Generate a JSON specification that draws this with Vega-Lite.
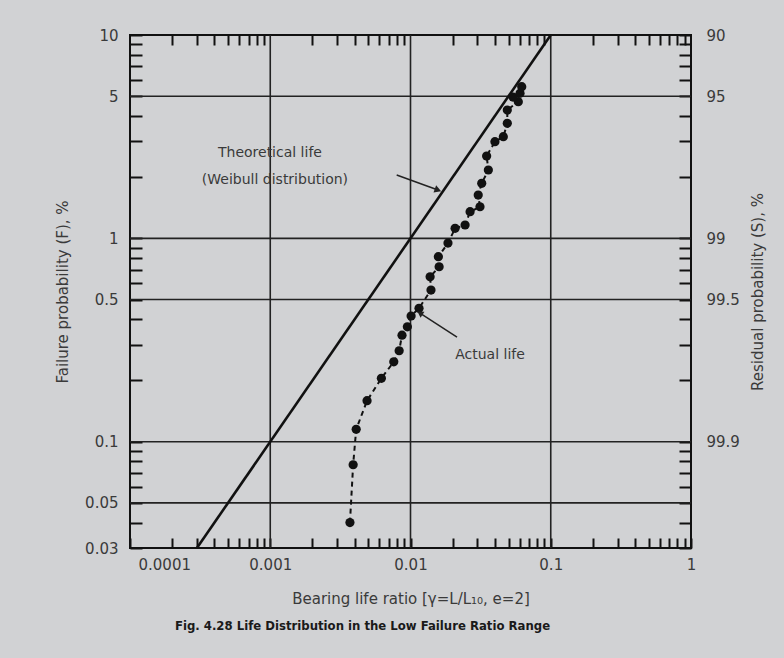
{
  "$schema": "https://vega.github.io/schema/vega-lite/v6.json",
  "width": 561,
  "height": 513,
  "autosize": {"type": "none"},
  "padding": {"left": 130, "top": 35, "right": 93, "bottom": 110},
  "background": "#d1d2d4",
  "config": {
    "view": {"stroke": "#111111", "strokeWidth": 2},
    "font": "DejaVu Sans",
    "axis": {"labelFont": "DejaVu Sans", "titleFont": "DejaVu Sans", "labelColor": "#3a3a3a", "titleColor": "#3a3a3a", "titleFontWeight": "normal", "labelFontSize": 15, "titleFontSize": 15, "domain": false, "grid": false, "tickColor": "#111111", "tickWidth": 2}
  },
  "title": {
    "text": "Fig. 4.28  Life Distribution in the Low Failure Ratio Range",
    "orient": "bottom",
    "anchor": "middle",
    "font": "DejaVu Sans Condensed, Liberation Sans, sans-serif",
    "fontSize": 13,
    "fontWeight": "bold",
    "color": "#1a1a1a",
    "offset": 14,
    "dx": -48
  },
  "datasets": {
    "theory": [{"x": 0.0003, "y": 0.03}, {"x": 0.1, "y": 10}],
    "actual": [
      {"x": 0.0037, "y": 0.040}, {"x": 0.0039, "y": 0.077}, {"x": 0.0041, "y": 0.115},
      {"x": 0.0049, "y": 0.159}, {"x": 0.0062, "y": 0.205}, {"x": 0.0076, "y": 0.247},
      {"x": 0.0083, "y": 0.280}, {"x": 0.0087, "y": 0.334}, {"x": 0.0095, "y": 0.367},
      {"x": 0.0101, "y": 0.415}, {"x": 0.0115, "y": 0.453}, {"x": 0.0140, "y": 0.557},
      {"x": 0.0138, "y": 0.647}, {"x": 0.0160, "y": 0.725}, {"x": 0.0158, "y": 0.812},
      {"x": 0.0185, "y": 0.948}, {"x": 0.0208, "y": 1.12}, {"x": 0.0245, "y": 1.163},
      {"x": 0.0266, "y": 1.352}, {"x": 0.0313, "y": 1.43}, {"x": 0.0304, "y": 1.633},
      {"x": 0.0322, "y": 1.865}, {"x": 0.0359, "y": 2.168}, {"x": 0.0349, "y": 2.54},
      {"x": 0.0400, "y": 2.987}, {"x": 0.0459, "y": 3.16}, {"x": 0.0490, "y": 3.68},
      {"x": 0.0490, "y": 4.276}, {"x": 0.0587, "y": 4.70}, {"x": 0.0538, "y": 4.95},
      {"x": 0.0604, "y": 5.17}, {"x": 0.0621, "y": 5.57}
    ],
    "gridY": [{"y": 5}, {"y": 1}, {"y": 0.5}, {"y": 0.1}, {"y": 0.05}],
    "gridX": [{"x": 0.001}, {"x": 0.01}, {"x": 0.1}],
    "labels": [
      {"x": 0.000995, "y": 2.63, "text": "Theoretical life"},
      {"x": 0.00108, "y": 1.94, "text": "(Weibull distribution)"},
      {"x": 0.0369, "y": 0.267, "text": "Actual life"}
    ],
    "arrow1": [{"x": 0.00797, "y": 2.048, "x2": 0.0157, "y2": 1.728}],
    "arrow2": [{"x": 0.02146, "y": 0.327, "x2": 0.01168, "y2": 0.429}]
  },
  "resolve": {"axis": {"x": "independent", "y": "independent"}},
  "layer": [
    {
      "data": {"name": "gridY"},
      "mark": {"type": "rule", "color": "#222222", "strokeWidth": 1.6},
      "encoding": {
        "y": {"field": "y", "type": "quantitative", "scale": {"type": "log", "domain": [0.03, 10]}, "axis": null}
      }
    },
    {
      "data": {"name": "gridX"},
      "mark": {"type": "rule", "color": "#222222", "strokeWidth": 1.6},
      "encoding": {
        "x": {"field": "x", "type": "quantitative", "scale": {"type": "log", "domain": [0.0001, 1]}, "axis": null}
      }
    },
    {
      "data": {"name": "theory"},
      "mark": {"type": "line", "color": "#111111", "strokeWidth": 2.6},
      "encoding": {
        "x": {
          "field": "x", "type": "quantitative",
          "scale": {"type": "log", "domain": [0.0001, 1]},
          "axis": {
            "orient": "bottom",
            "values": [0.0001,0.0002,0.0003,0.0004,0.0005,0.0006,0.0007,0.0008,0.0009,0.001,0.002,0.003,0.004,0.005,0.006,0.007,0.008,0.009,0.01,0.02,0.03,0.04,0.05,0.06,0.07,0.08,0.09,0.1,0.2,0.3,0.4,0.5,0.6,0.7,0.8,0.9,1],
            "labelExpr": "indexof([0.0001,0.001,0.01,0.1,1], datum.value) >= 0 ? format(datum.value, '.4~f') : ''",
            "labelFlush": false,
            "labelAlign": {"condition": {"test": "datum.value === 0.0001", "value": "left"}, "value": "center"},
            "labelOffset": {"condition": {"test": "datum.value === 0.0001", "value": 8}, "value": 0},
            "tickSize": -10,
            "labelPadding": 19,
            "title": "Bearing life ratio [γ=L/L₁₀, e=2]",
            "titlePadding": 19
          }
        },
        "y": {
          "field": "y", "type": "quantitative",
          "scale": {"type": "log", "domain": [0.03, 10]},
          "axis": {
            "orient": "left",
            "values": [0.03,0.04,0.05,0.06,0.07,0.08,0.09,0.1,0.2,0.3,0.4,0.5,0.6,0.7,0.8,0.9,1,2,3,4,5,6,7,8,9,10],
            "labelExpr": "indexof([10,5,1,0.5,0.1,0.05,0.03], datum.value) >= 0 ? format(datum.value, '~g') : ''",
            "tickSize": -12,
            "labelPadding": 24,
            "title": "Failure probability (F), %",
            "titlePadding": 14
          }
        }
      }
    },
    {
      "data": {"name": "actual"},
      "mark": {"type": "line", "color": "#111111", "strokeWidth": 2, "strokeDash": [5, 4]},
      "encoding": {
        "x": {"field": "x", "type": "quantitative", "scale": {"type": "log", "domain": [0.0001, 1]}, "axis": null},
        "y": {"field": "y", "type": "quantitative", "scale": {"type": "log", "domain": [0.03, 10]}, "axis": null},
        "order": {"field": "y", "type": "quantitative"}
      }
    },
    {
      "data": {"name": "actual"},
      "mark": {"type": "point", "shape": "circle", "filled": true, "size": 85, "color": "#111111", "opacity": 1},
      "encoding": {
        "x": {
          "field": "x", "type": "quantitative",
          "scale": {"type": "log", "domain": [0.0001, 1]},
          "axis": {
            "orient": "top",
            "values": [0.0002,0.0003,0.0004,0.0005,0.0006,0.0007,0.0008,0.0009,0.002,0.003,0.004,0.005,0.006,0.007,0.008,0.009,0.02,0.03,0.04,0.05,0.06,0.07,0.08,0.09,0.2,0.3,0.4,0.5,0.6,0.7,0.8,0.9],
            "labels": false,
            "tickSize": -10,
            "title": null
          }
        },
        "y": {
          "field": "y", "type": "quantitative",
          "scale": {"type": "log", "domain": [0.03, 10]},
          "axis": {
            "orient": "right",
            "values": [0.03,0.04,0.05,0.06,0.07,0.08,0.09,0.1,0.2,0.3,0.4,0.5,0.6,0.7,0.8,0.9,1,2,3,4,5,6,7,8,9,10],
            "labelExpr": "datum.value == 10 ? '90' : datum.value == 5 ? '95' : datum.value == 1 ? '99' : datum.value == 0.5 ? '99.5' : datum.value == 0.1 ? '99.9' : ''",
            "tickSize": -12,
            "labelPadding": 27,
            "title": "Residual probability (S), %",
            "titleAngle": 270,
            "titlePadding": 26
          }
        }
      }
    },
    {
      "data": {"name": "labels"},
      "mark": {"type": "text", "align": "center", "baseline": "middle", "fontSize": 14, "color": "#3a3a3a", "font": "DejaVu Sans"},
      "encoding": {
        "x": {"field": "x", "type": "quantitative", "scale": {"type": "log", "domain": [0.0001, 1]}, "axis": null},
        "y": {"field": "y", "type": "quantitative", "scale": {"type": "log", "domain": [0.03, 10]}, "axis": null},
        "text": {"field": "text", "type": "nominal"}
      }
    },
    {
      "data": {"name": "arrow1"},
      "mark": {"type": "rule", "color": "#222222", "strokeWidth": 1.5},
      "encoding": {
        "x": {"field": "x", "type": "quantitative", "scale": {"type": "log", "domain": [0.0001, 1]}, "axis": null},
        "y": {"field": "y", "type": "quantitative", "scale": {"type": "log", "domain": [0.03, 10]}, "axis": null},
        "x2": {"field": "x2"},
        "y2": {"field": "y2"}
      }
    },
    {
      "data": {"name": "arrow1"},
      "mark": {"type": "point", "shape": "triangle-right", "filled": true, "size": 60, "color": "#222222", "opacity": 1, "angle": 20},
      "encoding": {
        "x": {"field": "x2", "type": "quantitative", "scale": {"type": "log", "domain": [0.0001, 1]}, "axis": null},
        "y": {"field": "y2", "type": "quantitative", "scale": {"type": "log", "domain": [0.03, 10]}, "axis": null}
      }
    },
    {
      "data": {"name": "arrow2"},
      "mark": {"type": "rule", "color": "#222222", "strokeWidth": 1.5},
      "encoding": {
        "x": {"field": "x", "type": "quantitative", "scale": {"type": "log", "domain": [0.0001, 1]}, "axis": null},
        "y": {"field": "y", "type": "quantitative", "scale": {"type": "log", "domain": [0.03, 10]}, "axis": null},
        "x2": {"field": "x2"},
        "y2": {"field": "y2"}
      }
    },
    {
      "data": {"name": "arrow2"},
      "mark": {"type": "point", "shape": "triangle-right", "filled": true, "size": 50, "color": "#222222", "opacity": 1, "angle": 213},
      "encoding": {
        "x": {"field": "x2", "type": "quantitative", "scale": {"type": "log", "domain": [0.0001, 1]}, "axis": null},
        "y": {"field": "y2", "type": "quantitative", "scale": {"type": "log", "domain": [0.03, 10]}, "axis": null}
      }
    }
  ]
}
